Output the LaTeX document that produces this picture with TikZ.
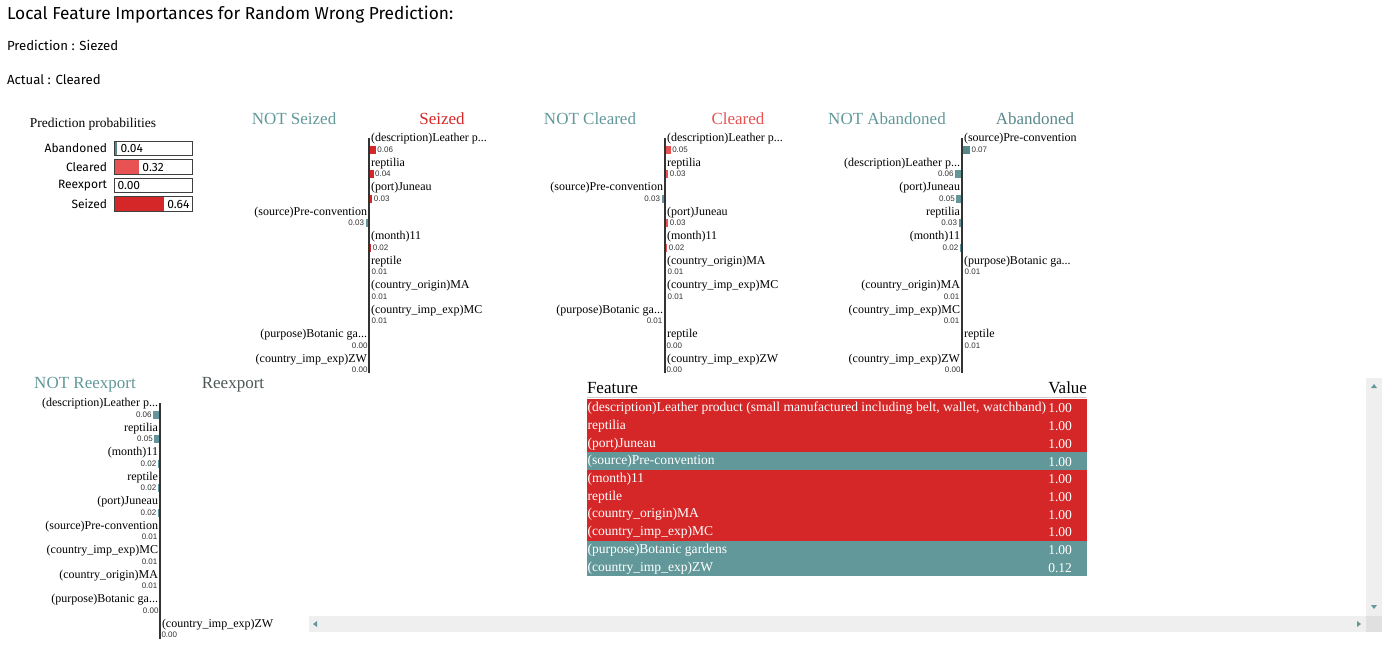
\documentclass[tikz,border=0pt]{standalone}
\usepackage{fontspec}
\setmainfont{Liberation Serif}
\setsansfont{Fira Sans}
\newfontfamily\valfont{Liberation Sans}
\usetikzlibrary{positioning}

\definecolor{limered}{RGB}{214,39,40}
\definecolor{clearred}{RGB}{232,82,82}
\definecolor{limeteal}{RGB}{98,152,154}
\definecolor{abanteal}{RGB}{88,136,138}
\definecolor{reexgray}{RGB}{78,88,88}
\definecolor{scrollbg}{RGB}{240,239,240}

\newcommand{\limerows}[2]{%
  \foreach \lab/\v/\s [count=\i from 0] in {#2}{%
    \pgfmathsetmacro\yl{1+24.5*\i}%
    \pgfmathsetmacro\yv{11.5+24.5*\i}%
    \pgfmathsetmacro\bw{\s*\v*115}%
    \ifnum\s>0
      \fill[posbar] (0,\yv-4) rectangle (\bw,\yv+4);
      \node[featlab, anchor=west] (#1-f\i) at (2,\yl) {\lab};
      \node[featval, anchor=west] (#1-v\i) at (\bw+1.5,\yv) {\v};
    \else
      \fill[negbar] (0,\yv-4) rectangle (\bw,\yv+4);
      \node[featlab, anchor=east] (#1-f\i) at (-2,\yl) {\lab};
      \node[featval, anchor=east] (#1-v\i) at (\bw-1.5,\yv) {\v};
    \fi
  }%
}

\begin{document}
\begin{tikzpicture}[x=1pt, y=-1pt,
    every node/.style={inner sep=0pt, outer sep=0pt},
    titletext/.style={font=\sffamily\fontsize{17.3}{20}\selectfont, anchor=west},
    infotext/.style={font=\sffamily\fontsize{13.2}{15}\selectfont, anchor=west},
    problab/.style={font=\sffamily\fontsize{12}{14}\selectfont, anchor=east},
    probval/.style={font=\sffamily\fontsize{12}{14}\selectfont, anchor=west},
    boxline/.style={draw=black!75, line width=1pt},
    headnot/.style={font=\fontsize{17}{20}\selectfont, text=limeteal},
    featlab/.style={font=\fontsize{12}{14}\selectfont},
    featval/.style={font=\valfont\fontsize{8}{9}\selectfont, text=black!80},
    axisline/.style={draw=black!80, line width=1.8pt},
    posbar/.style={fill=limered},
    negbar/.style={fill=limeteal},
    tabhead/.style={font=\fontsize{17}{20}\selectfont},
    tabtext/.style={font=\fontsize{13.55}{16}\selectfont, text=white},
    arrowtip/.style={fill=limeteal}]
  \useasboundingbox (0,0) rectangle (1400,651);

  % header texts
  \node[titletext] (title) at (7,15) {Local Feature Importances for Random Wrong Prediction:};
  \node[infotext] (pred) at (7,45) {Prediction : Siezed};
  \node[infotext] (act) at (7,80) {Actual : Cleared};

  % prediction probabilities
  \node[font=\fontsize{13.5}{16}\selectfont] (probtitle) at (93,124) {Prediction probabilities};
  \foreach \cls/\p/\col [count=\i from 0] in {Abandoned/0.04/abanteal, Cleared/0.32/clearred,
      Reexport/0.00/reexgray, Seized/0.64/limered}{
    \pgfmathsetmacro\yt{141+18.6*\i}
    \node[problab] (pl-\i) at (107,\yt+7.5) {\cls};
    \fill[\col] (114,\yt) rectangle (114+78*\p,\yt+14.5);
    \draw[boxline] (114,\yt) rectangle (192,\yt+14.5);
    \node[probval] (pv-\i) at (114+78*\p+3.5,\yt+7.5) {\p};
  }

  % Seized
  \begin{scope}[shift={(369,138)}]
    \node[headnot] (sz-not) at (-75,-19) {NOT Seized};
    \node[headnot, text=limered] (sz-cls) at (73,-19) {Seized};
    \coordinate (sz-top) at (0,0);
    \coordinate (sz-bot) at (0,235);
    \limerows{sz}{{(description)Leather p...}/0.06/1, reptilia/0.04/1, {(port)Juneau}/0.03/1,
      {(source)Pre-convention}/0.03/-1, {(month)11}/0.02/1, reptile/0.01/1,
      {(country\_origin)MA}/0.01/1, {(country\_imp\_exp)MC}/0.01/1,
      {(purpose)Botanic ga...}/0.00/-1, {(country\_imp\_exp)ZW}/0.00/-1}
    \draw[axisline] (sz-top) -- (sz-bot);
  \end{scope}

  % Cleared
  \begin{scope}[shift={(665,138)}, posbar/.style={fill=clearred}]
    \node[headnot] (cl-not) at (-75,-19) {NOT Cleared};
    \node[headnot, text=clearred] (cl-cls) at (73,-19) {Cleared};
    \coordinate (cl-top) at (0,0);
    \coordinate (cl-bot) at (0,235);
    \limerows{cl}{{(description)Leather p...}/0.05/1, reptilia/0.03/1,
      {(source)Pre-convention}/0.03/-1, {(port)Juneau}/0.03/1, {(month)11}/0.02/1,
      {(country\_origin)MA}/0.01/1, {(country\_imp\_exp)MC}/0.01/1,
      {(purpose)Botanic ga...}/0.01/-1, reptile/0.00/1, {(country\_imp\_exp)ZW}/0.00/1}
    \draw[axisline] (cl-top) -- (cl-bot);
  \end{scope}

  % Abandoned
  \begin{scope}[shift={(962,138)}, posbar/.style={fill=abanteal}]
    \node[headnot] (ab-not) at (-75,-19) {NOT Abandoned};
    \node[headnot, text=abanteal] (ab-cls) at (73,-19) {Abandoned};
    \coordinate (ab-top) at (0,0);
    \coordinate (ab-bot) at (0,235);
    \limerows{ab}{{(source)Pre-convention}/0.07/1, {(description)Leather p...}/0.06/-1,
      {(port)Juneau}/0.05/-1, reptilia/0.03/-1, {(month)11}/0.02/-1,
      {(purpose)Botanic ga...}/0.01/1, {(country\_origin)MA}/0.01/-1,
      {(country\_imp\_exp)MC}/0.01/-1, reptile/0.01/1, {(country\_imp\_exp)ZW}/0.00/-1}
    \draw[axisline] (ab-top) -- (ab-bot);
  \end{scope}

  % Reexport
  \begin{scope}[shift={(160,403)}, posbar/.style={fill=reexgray}]
    \node[headnot] (re-not) at (-75,-18) {NOT Reexport};
    \node[headnot, text=reexgray] (re-cls) at (73,-18) {Reexport};
    \coordinate (re-top) at (0,0);
    \coordinate (re-bot) at (0,236);
    \limerows{re}{{(description)Leather p...}/0.06/-1, reptilia/0.05/-1, {(month)11}/0.02/-1,
      reptile/0.02/-1, {(port)Juneau}/0.02/-1, {(source)Pre-convention}/0.01/-1,
      {(country\_imp\_exp)MC}/0.01/-1, {(country\_origin)MA}/0.01/-1,
      {(purpose)Botanic ga...}/0.00/-1, {(country\_imp\_exp)ZW}/0.00/1}
    \draw[axisline] (re-top) -- (re-bot);
  \end{scope}

  % feature table
  \node[tabhead, anchor=west] (th-feat) at (587,388) {Feature};
  \node[tabhead, anchor=east] (th-val) at (1087,388) {Value};
  \coordinate (rule-l) at (587,397.5);
  \coordinate (rule-r) at (1087,397.5);
  \draw[black!20, line width=1pt] (rule-l) -- (rule-r);
  \foreach \feat/\val/\col [count=\i from 0] in {
      {(description)Leather product (small manufactured including belt, wallet, watchband)}/1.00/limered,
      reptilia/1.00/limered, {(port)Juneau}/1.00/limered, {(source)Pre-convention}/1.00/limeteal,
      {(month)11}/1.00/limered, reptile/1.00/limered, {(country\_origin)MA}/1.00/limered,
      {(country\_imp\_exp)MC}/1.00/limered, {(purpose)Botanic gardens}/1.00/limeteal,
      {(country\_imp\_exp)ZW}/0.12/limeteal}{
    \pgfmathsetmacro\yt{399+17.7*\i}
    \fill[\col] (587,\yt) rectangle (1087,\yt+17.75);
    \node[tabtext, anchor=west] (tf-\i) at (587.5,\yt+9.5) {\feat};
    \node[tabtext, anchor=east] (tv-\i) at (1072,\yt+9.5) {\val};
  }

  % scroll bars
  \fill[scrollbg] (1366,378) rectangle (1382,616);
  \fill[scrollbg] (309,616) rectangle (1366,632);
  \fill[black!12] (1366,616) rectangle (1382,632);
  \fill[arrowtip] (1371,388) -- (1377,388) -- (1374,384) -- cycle;
  \fill[arrowtip] (1371,605) -- (1377,605) -- (1374,609) -- cycle;
  \fill[arrowtip] (317,621) -- (317,627) -- (313,624) -- cycle;
  \fill[arrowtip] (1357,621) -- (1357,627) -- (1361,624) -- cycle;
\end{tikzpicture}
\end{document}
